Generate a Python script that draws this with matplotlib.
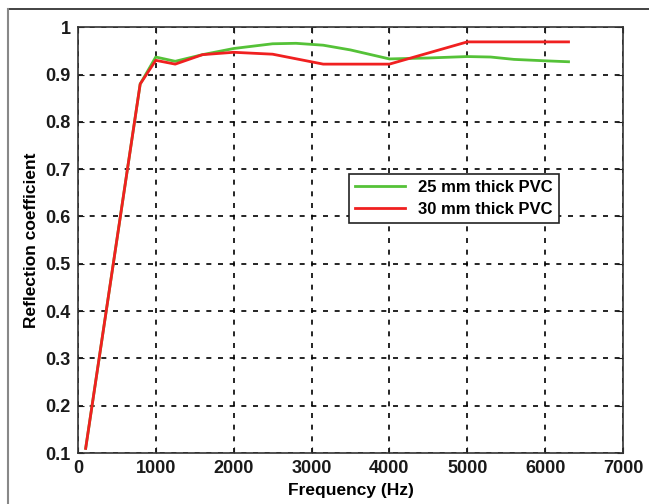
import matplotlib
matplotlib.use('Agg')
import matplotlib.pyplot as plt
from matplotlib.lines import Line2D

plt.rcParams['font.family'] = ['Liberation Sans', 'DejaVu Sans']
plt.rcParams['font.weight'] = 'bold'

# frequencies (Hz) and reflection coefficients
freq_25 = [100, 800, 1000, 1250, 1600, 2000, 2500, 2800, 3150, 3500, 4000, 4500, 5000, 5300, 5600, 6000, 6300]
refl_25 = [0.11, 0.88, 0.937, 0.928, 0.942, 0.955, 0.965, 0.966, 0.962, 0.952, 0.933, 0.935, 0.938, 0.937, 0.932, 0.929, 0.927]

freq_30 = [100, 800, 1000, 1250, 1600, 2000, 2500, 3150, 4000, 5000, 6300]
refl_30 = [0.11, 0.88, 0.93, 0.922, 0.942, 0.947, 0.943, 0.922, 0.922, 0.969, 0.969]

labels = ['25 mm thick PVC', '30 mm thick PVC']

fig = plt.figure(figsize=(6.49, 5.04), dpi=100)
ax = fig.add_axes([0.120, 0.101, 0.840, 0.845])

ax.plot(freq_25, refl_25, color='#55c238', lw=2, label=labels[0])
ax.plot(freq_30, refl_30, color='#f02020', lw=2, label=labels[1])

ax.set_xlim(0, 7000)
ax.set_ylim(0.1, 1)
ax.set_xticks(range(0, 7001, 1000))
ax.set_yticks([0.1, 0.2, 0.3, 0.4, 0.5, 0.6, 0.7, 0.8, 0.9, 1])
ax.set_yticklabels(['0.1', '0.2', '0.3', '0.4', '0.5', '0.6', '0.7', '0.8', '0.9', '1'])
ax.tick_params(direction='in', top=True, right=True, length=4, labelsize=13, colors='#1a1a1a', pad=5)
for lab in ax.get_xticklabels() + ax.get_yticklabels():
    lab.set_fontweight('bold')
ax.grid(True, color='black', linestyle=(0, (3, 4)), linewidth=1.2)
for s in ax.spines.values():
    s.set_color('#333333')
    s.set_linewidth(1.2)

ax.set_xlabel('Frequency (Hz)', fontsize=12.5, fontweight='bold', labelpad=4)
ax.set_ylabel('Reflection coefficient', fontsize=12.5, fontweight='bold', labelpad=5)

leg = ax.legend(loc='upper left', bbox_to_anchor=(0.482, 0.675), fancybox=False,
                edgecolor='#222222', fontsize=12, handlelength=3.0,
                borderpad=0.35, labelspacing=0.45, framealpha=1)
leg.get_frame().set_linewidth(1.2)

# outer frame of the picture
fig.add_artist(Line2D([8 / 649, 1], [1 - 9 / 504, 1 - 9 / 504], color='#222222', lw=1.2))
fig.add_artist(Line2D([8 / 649, 8 / 649], [0, 1 - 9 / 504], color='#888888', lw=1.5))

fig.savefig('out.png', dpi=100)
